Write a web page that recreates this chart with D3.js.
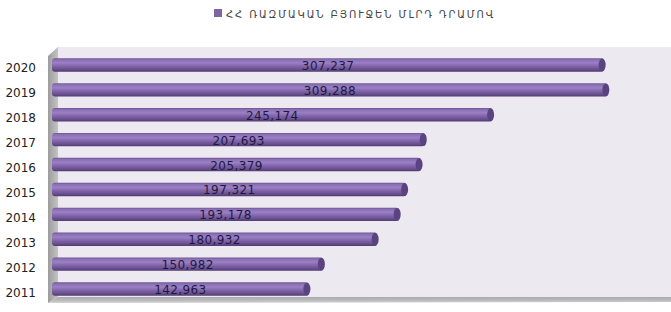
<!DOCTYPE html>
<html><head><meta charset="utf-8">
<script src="https://cdn.jsdelivr.net/npm/d3@7"></script>
<style>body{margin:0;background:#fff}svg{display:block}</style>
</head><body>
<svg id="c" width="671" height="312"></svg>
<script>
const years = ["2020","2019","2018","2017","2016","2015","2014","2013","2012","2011"];
const values = [307237,309288,245174,207693,205379,197321,193178,180932,150982,142963];
const legendLabel = "ՀՀ ՌԱԶՄԱԿԱՆ ԲՅՈՒՋԵՆ ՄԼՐԴ ԴՐԱՄՈՎ";

const svg = d3.select("#c");
const W = 671, H = 312;
const x = d3.scaleLinear().domain([0, 350000]).range([52, 681]);
const y = d3.scaleBand().domain(years).range([52.5, 301.5]).paddingInner(0.46).paddingOuter(0.23);
const fmt = d3.format(",");

const defs = svg.append("defs");
const g1 = defs.append("linearGradient").attr("id","bar").attr("x1",0).attr("y1",0).attr("x2",0).attr("y2",1);
[[0,"#6d5492"],[0.12,"#8a6fb3"],[0.35,"#9a80c6"],[0.6,"#8164a8"],[0.85,"#664d8c"],[1,"#4f3a70"]].forEach(s=>g1.append("stop").attr("offset",s[0]).attr("stop-color",s[1]));
const g2 = defs.append("linearGradient").attr("id","wall").attr("x1",0).attr("y1",0).attr("x2",1).attr("y2",0);
[[0,"#9c9c9c"],[1,"#c4c4c4"]].forEach(s=>g2.append("stop").attr("offset",s[0]).attr("stop-color",s[1]));
const g3 = defs.append("linearGradient").attr("id","floor").attr("x1",0).attr("y1",0).attr("x2",0).attr("y2",1);
[[0,"#aaaaaa"],[0.6,"#bdbdbd"],[1,"#d6d6d6"]].forEach(s=>g3.append("stop").attr("offset",s[0]).attr("stop-color",s[1]));

// back wall
svg.append("rect").attr("x",58).attr("y",47).attr("width",W-58).attr("height",250).attr("fill","#ece9f1");
// left wall
svg.append("path").attr("d","M48,56 L58,47 L58,297 L48,303 Z").attr("fill","url(#wall)");
// floor
svg.append("path").attr("d",`M58,297 L${W},297 L${W},302 L48,303 Z`).attr("fill","url(#floor)");

// legend
const lg = svg.append("g");
lg.append("rect").attr("x",214).attr("y",9).attr("width",8).attr("height",8).attr("fill","#8064a2");
lg.append("text").attr("x",226).attr("y",17.5).attr("font-family","DejaVu Sans").attr("font-size",10)
  .attr("letter-spacing",1.9).attr("fill","#444").text(legendLabel);

// year labels
svg.append("g").selectAll("text").data(years).join("text")
  .attr("x",36).attr("y",d=>y(d)+y.bandwidth()/2+7.5).attr("text-anchor","end")
  .attr("font-family","DejaVu Sans").attr("font-size",12).attr("fill","#222").text(d=>d);

const bh = y.bandwidth();
const bars = svg.append("g").selectAll("g").data(years.map((d,i)=>({year:d,v:values[i]}))).join("g");
bars.append("rect").attr("x",x(0)).attr("y",d=>y(d.year)).attr("width",d=>x(d.v)-x(0)).attr("height",bh)
  .attr("rx",3).attr("fill","url(#bar)");
bars.append("ellipse").attr("cx",d=>x(d.v)-2).attr("cy",d=>y(d.year)+bh/2).attr("rx",3.5).attr("ry",bh/2-0.3)
  .attr("fill","#5a4380");
bars.append("text").attr("x",d=>(x(0)+x(d.v))/2).attr("y",d=>y(d.year)+bh/2+5).attr("text-anchor","middle")
  .attr("font-family","DejaVu Sans").attr("font-size",12).attr("letter-spacing",0.4).attr("fill","#1e1a3c").text(d=>fmt(d.v));
</script>
</body></html>
